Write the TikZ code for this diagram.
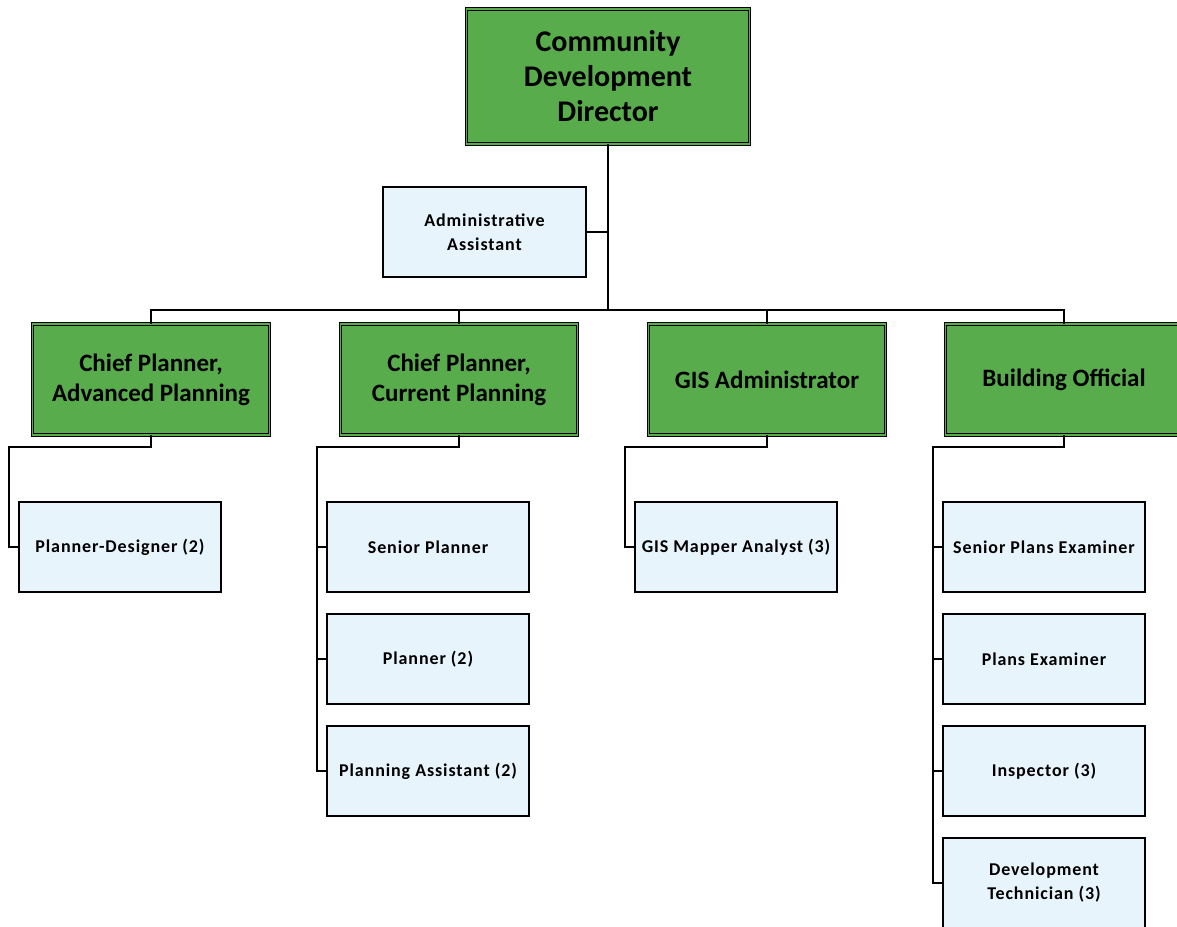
\documentclass[tikz,border=0pt]{standalone}
\usepackage{fontspec}
\setmainfont{Carlito}
\newfontfamily\staffont[LetterSpace=5]{Carlito}
\usepackage{xcolor}
\usepackage{tikz}
\usetikzlibrary{positioning}

\definecolor{boxgreen}{HTML}{58AC4B}
\definecolor{boxblue}{HTML}{E8F4FB}

\begin{document}
\begin{tikzpicture}[x=1pt, y=-1pt, line width=1.3pt, inner sep=0pt, node distance=112pt,
  head/.style={rectangle, draw=black, double=boxgreen, double distance=1.8pt, line width=0.9pt,
    fill=boxgreen, align=center, font=\fontsize{25}{30}\selectfont\bfseries,
    minimum width=237pt, minimum height=111pt},
  staff/.style={rectangle, draw=black, fill=boxblue, line width=1.2pt, align=center,
    font=\staffont\fontsize{18}{24}\selectfont\bfseries, minimum width=202pt, minimum height=90pt}]
\useasboundingbox (0,0) rectangle (1177,926);

\node [head, minimum width=283pt, minimum height=135pt, font=\fontsize{30}{35}\selectfont\bfseries]
  (dir) at (608,76.5) {Community\\Development\\Director};
\node [staff, minimum width=203pt] (adm) at (484.5,232) {Administrative\\Assistant};

\node [head] (cp1) at (151,379.5) {Chief Planner,\\Advanced Planning};
\node [head] (cp2) at (459,379.5) {Chief Planner,\\Current Planning};
\node [head] (gis) at (767,379.5) {GIS Administrator};
\node [head] (bo)  at (1064,379.5) {Building Official};

\node [staff] (pd) at (120,547) {Planner-Designer (2)};

\node [staff] (sp) at (428,547) {Senior Planner};
\node [staff] (pl) [below of=sp] {Planner (2)};
\node [staff] (pa) [below of=pl] {Planning Assistant (2)};

\node [staff] (gm) at (736,547) {GIS Mapper Analyst (3)};

\node [staff] (spe) at (1044,547) {Senior Plans Examiner};
\node [staff] (pe)  [below of=spe] {Plans Examiner};
\node [staff] (ins) [below of=pe] {Inspector (3)};
\node [staff] (dt)  [below of=ins] {Development\\Technician (3)};

\coordinate (bus) at (608,310);
\coordinate (c1) at (9,447);
\coordinate (c2) at (317,447);
\coordinate (c3) at (625,447);
\coordinate (c4) at (933,447);

% director to the four heads
\draw (dir.south) -- (dir.south |- bus);
\draw (adm.east) -- (adm.east -| dir.south);
\draw (cp1.north) -- (cp1.north |- bus) -- (bo.north |- bus) -- (bo.north);
\draw (cp2.north) -- (cp2.north |- bus);
\draw (gis.north) -- (gis.north |- bus);

% heads to staff
\draw (cp1.south) |- (c1) |- (pd.west);
\draw (cp2.south) |- (c2) |- (pa.west);
\draw (sp.west) -- (sp.west -| c2);
\draw (pl.west) -- (pl.west -| c2);
\draw (gis.south) |- (c3) |- (gm.west);
\draw (bo.south) |- (c4) |- (dt.west);
\draw (spe.west) -- (spe.west -| c4);
\draw (pe.west) -- (pe.west -| c4);
\draw (ins.west) -- (ins.west -| c4);
\end{tikzpicture}
\end{document}
